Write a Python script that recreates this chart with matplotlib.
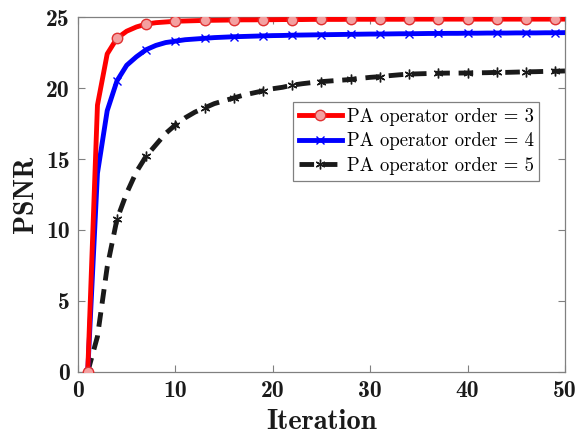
import matplotlib
matplotlib.use("Agg")
import matplotlib.pyplot as plt
import numpy as np

iterations = list(range(1, 51))
psnr_order3 = [0, 18.8, 22.4, 23.5, 24.0, 24.3, 24.5, 24.6, 24.65, 24.7,
               24.72, 24.74, 24.76, 24.77, 24.78, 24.79, 24.8, 24.8, 24.81, 24.81,
               24.82, 24.82, 24.82, 24.83, 24.83, 24.83, 24.83, 24.84, 24.84, 24.84,
               24.84, 24.84, 24.84, 24.85, 24.85, 24.85, 24.85, 24.85, 24.85, 24.85,
               24.85, 24.85, 24.85, 24.85, 24.85, 24.85, 24.85, 24.85, 24.85, 24.85]
psnr_order4 = [0, 14.0, 18.4, 20.5, 21.6, 22.2, 22.7, 23.0, 23.2, 23.3,
               23.4, 23.45, 23.5, 23.55, 23.58, 23.61, 23.63, 23.65, 23.67, 23.69,
               23.7, 23.72, 23.73, 23.74, 23.75, 23.76, 23.77, 23.78, 23.79, 23.8,
               23.8, 23.81, 23.82, 23.82, 23.83, 23.84, 23.84, 23.85, 23.85, 23.86,
               23.86, 23.87, 23.87, 23.87, 23.88, 23.88, 23.88, 23.89, 23.89, 23.9]
psnr_order5 = [0, 2.5, 7.4, 10.75, 12.6, 14.1, 15.2, 16.0, 16.8, 17.4,
               17.9, 18.3, 18.6, 18.9, 19.1, 19.3, 19.5, 19.65, 19.8, 19.95,
               20.05, 20.2, 20.3, 20.38, 20.45, 20.5, 20.55, 20.6, 20.68, 20.75,
               20.8, 20.87, 20.93, 20.98, 21.0, 21.02, 21.04, 21.05, 21.05, 21.06,
               21.07, 21.08, 21.1, 21.1, 21.12, 21.14, 21.15, 21.17, 21.18, 21.2]
labels = ["PA operator order = 3", "PA operator order = 4", "PA operator order = 5"]
xticks = [0, 10, 20, 30, 40, 50]
yticks = [0, 5, 10, 15, 20, 25]

fig = plt.figure(figsize=(5.85, 4.36), dpi=100)
ax = fig.add_axes([0.1333, 0.1468, 0.8325, 0.8142])

ax.plot(iterations, psnr_order3, color="red", lw=3.5, marker="o", markersize=7.5,
        markerfacecolor="#f4a0a0", markeredgecolor="#e03030", markeredgewidth=1.0,
        markevery=3, label=labels[0], zorder=4)
ax.plot(iterations, psnr_order4, color="blue", lw=3.5, marker="x", markersize=5.5,
        markeredgewidth=1.0, markevery=3, label=labels[1], zorder=3)
ax.plot(iterations, psnr_order5, color="#1a1a1a", lw=3.5, ls=(0, (3, 1.8)),
        marker=(6, 2, 0), markersize=7, markeredgewidth=1.0,
        markevery=3, label=labels[2], zorder=2)

ax.set_xlim(0, 50)
ax.set_ylim(0, 25)
ax.set_xticks(xticks)
ax.set_yticks(yticks)
ax.tick_params(direction="in", top=True, right=True, length=5, width=0.8,
               color="#808080", pad=6)
for lab in ax.get_xticklabels() + ax.get_yticklabels():
    lab.set_fontfamily("cmb10")
    lab.set_fontsize(17)
    lab.set_color("#1a1a1a")
for s in ax.spines.values():
    s.set_color("#808080")
    s.set_linewidth(0.9)

ax.set_xlabel("Iteration", fontfamily="cmb10", fontsize=20.5, color="#1a1a1a", labelpad=5)
ax.set_ylabel("PSNR", fontfamily="cmb10", fontsize=20, color="#1a1a1a", labelpad=5)

leg = ax.legend(loc="upper left", bbox_to_anchor=(0.442, 0.76),
                prop={"family": "cmr10", "size": 13.5}, fancybox=False,
                edgecolor="#808080", framealpha=1, borderpad=0.3,
                handlelength=2.3, handletextpad=0.25, labelspacing=0.35,
                borderaxespad=0)
leg.get_frame().set_linewidth(0.9)

fig.savefig("out.png", dpi=100)
